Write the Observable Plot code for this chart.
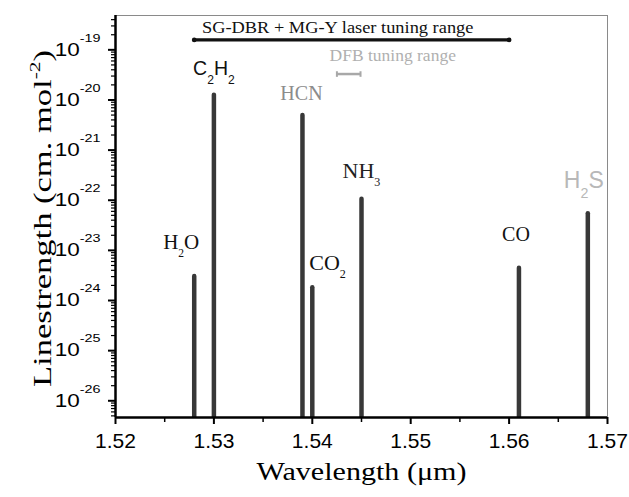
<!DOCTYPE html>
<html>
<head>
<meta charset="utf-8">
<script src="https://cdn.jsdelivr.net/npm/d3@7"></script>
<script src="https://cdn.jsdelivr.net/npm/@observablehq/plot@0.6"></script>
<style>
  html, body { margin: 0; padding: 0; background: #fff; }
  #chart { width: 629px; height: 497px; }
</style>
</head>
<body>
<div id="chart"></div>
<script>
// ---------------- data ----------------
const species     = ["H2O", "C2H2", "HCN", "CO2", "NH3", "CO", "H2S"];
const wavelengths = [1.528, 1.530, 1.539, 1.540, 1.545, 1.561, 1.568];      // µm
const strengths   = [3.0e-24, 1.24e-20, 4.9e-21, 1.8e-24, 1.05e-22, 4.4e-24, 5.4e-23]; // cm/mol

const rangeNames  = ["SG-DBR + MG-Y laser tuning range", "DFB tuning range"];
const rangeStart  = [1.528, 1.5425];
const rangeEnd    = [1.560, 1.5449];
const rangeLevel  = [1.58e-19, 3.29e-20];

const xTickValues   = [1.52, 1.53, 1.54, 1.55, 1.56, 1.57];
const xMinorValues  = [1.525, 1.535, 1.545, 1.555, 1.565];
const yTickExponents = [-26, -25, -24, -23, -22, -21, -20, -19];

const xTitle = "Wavelength (\u03BCm)";
const yTitle = "Linestrength (cm. mol^-2)";

// ---------------- styling ----------------
const SERIF = "Liberation Serif";
const SANS  = "Liberation Sans";
const yDomain = [4.64e-27, 4.84e-19];

const labelStyle = {
  H2O:  {font: SERIF, size: 21,   color: "#111",    dx: -13,  dy: -34},
  C2H2: {font: SANS,  size: 19.5, color: "#111",    dx: 0,    dy: -26.5},
  HCN:  {font: SERIF, size: 20,   color: "#8c8c8c", dx: -1,   dy: -22},
  CO2:  {font: SERIF, size: 22,   color: "#111",    dx: 15.3, dy: -24.7},
  NH3:  {font: SERIF, size: 22,   color: "#222",    dx: 0,    dy: -28.5},
  CO:   {font: SERIF, size: 20,   color: "#111",    dx: -3,   dy: -33.5},
  H2S:  {font: SANS,  size: 23,   color: "#b8b8b8", dx: -4,   dy: -33}
};
const rangeStyle = [
  {stroke: "#111", width: 3.3, text: "#111",    size: 17.5, dx: -14, dy: -12},
  {stroke: "#a8a8a8", width: 2.5, text: "#b0b0b0", size: 17.5, dx: 44, dy: -18.4}
];

// ---------------- tables ----------------
const lines = species.map((name, i) => ({name, wl: wavelengths[i], s: strengths[i]}));
const ranges = rangeNames.map((name, i) => ({name, start: rangeStart[i], end: rangeEnd[i], s: rangeLevel[i], i}));
const rangeEnds = ranges.flatMap(r => [{x: r.start, s: r.s, i: r.i}, {x: r.end, s: r.s, i: r.i}]);

const yMajor = yTickExponents.map(e => Math.pow(10, e));
const yMinor = [];
for (let e = -27; e <= -19; e++) for (let m = 2; m <= 9; m++) {
  const v = m * Math.pow(10, e);
  if (v > yDomain[0] && v < yDomain[1]) yMinor.push(v);
}

const vtick = {draw(ctx) { ctx.moveTo(0, -2.8); ctx.lineTo(0, 2.8); }};

const marks = [
  Plot.frame({stroke: "#8a8a8a", strokeWidth: 1}),
  Plot.ruleX(lines, {x: "wl", y1: yDomain[0], y2: "s", stroke: "#383838", strokeWidth: 4.5, strokeLinecap: "round", clip: true}),
  Plot.axisY({ticks: yMinor, tickSize: 4, tickFormat: () => "", strokeWidth: 1.2, label: null}),
  Plot.axisY({ticks: yMajor, tickSize: 7, tickPadding: 8, strokeWidth: 2, label: null,
              tickFormat: d => "10^" + Math.round(Math.log10(d)), fontSize: 18, fontFamily: SANS}),
  Plot.axisX({ticks: xMinorValues, tickSize: 5, tickFormat: () => "", strokeWidth: 1.5, label: null}),
  Plot.axisX({ticks: xTickValues, tickSize: 7, tickPadding: 9, strokeWidth: 2, label: null,
              tickFormat: d => d.toFixed(2), fontSize: 21, fontFamily: SANS}),
  Plot.ruleX([xTickValues[0]], {stroke: "#000", strokeWidth: 2.5}),
  Plot.ruleY([yDomain[0]], {stroke: "#000", strokeWidth: 2.5}),
  ...ranges.map((r, i) => Plot.ruleY([r], {y: "s", x1: "start", x2: "end", stroke: rangeStyle[i].stroke, strokeWidth: rangeStyle[i].width})),
  Plot.dot(rangeEnds.filter(d => d.i === 0), {x: "x", y: "s", r: 2.4, fill: rangeStyle[0].stroke, stroke: "none"}),
  Plot.dot(rangeEnds.filter(d => d.i === 1), {x: "x", y: "s", symbol: vtick, r: 3, fill: "none", stroke: rangeStyle[1].stroke, strokeWidth: 2}),
  ...ranges.map((r, i) => Plot.text([r], {x: d => (d.start + d.end) / 2, y: "s", text: "name",
      dx: rangeStyle[i].dx, dy: rangeStyle[i].dy, fill: rangeStyle[i].text, fontSize: rangeStyle[i].size, fontFamily: SERIF})),
  ...lines.map(l => {
    const st = labelStyle[l.name];
    return Plot.text([l], {x: "wl", y: "s", text: "name", dx: st.dx, dy: st.dy,
      fill: st.color, fontSize: st.size, fontFamily: st.font});
  }),
  Plot.text([xTitle], {text: d => d, frameAnchor: "bottom", textAnchor: "middle", lineAnchor: "middle",
      dy: 54, fontSize: 26, fontFamily: SERIF, fill: "#000"}),
  Plot.text([yTitle], {text: d => d, frameAnchor: "left", textAnchor: "middle", lineAnchor: "middle",
      rotate: -90, dx: -73, dy: 2, fontSize: 25, fontFamily: SERIF, fill: "#000"})
];

const svg = Plot.plot({
  width: 629, height: 497,
  marginLeft: 115, marginRight: 22, marginTop: 15, marginBottom: 80,
  x: {domain: [xTickValues[0], xTickValues[xTickValues.length - 1]], label: null},
  y: {type: "log", domain: yDomain, label: null},
  style: {background: "#fff", color: "#000", fontFamily: SANS, overflow: "visible"},
  marks
});
document.getElementById("chart").append(svg);

// ---------------- rich text (sub/superscripts) + glyph width ----------------
const NS = "http://www.w3.org/2000/svg";
function setRich(t, segs) {
  while (t.firstChild) t.removeChild(t.firstChild);
  let cur = 0;
  for (const g of segs) {
    const ts = document.createElementNS(NS, "tspan");
    ts.textContent = g.text;
    const shift = g.shift || 0;
    if (shift !== cur) ts.setAttribute("dy", shift - cur);
    cur = shift;
    if (g.size) ts.setAttribute("font-size", g.size);
    t.appendChild(ts);
  }
}
function stretch(t, k, target) {
  const L = t.getComputedTextLength();
  const len = target != null ? target : L * k;
  if (Math.abs(len - L) > 0.5) {
    t.setAttribute("textLength", len);
    t.setAttribute("lengthAdjust", "spacingAndGlyphs");
  }
}
svg.querySelectorAll("text").forEach(t => {
  const s = t.textContent;
  const fs = parseFloat(getComputedStyle(t).fontSize) || 16;
  let m;
  if ((m = s.match(/^10\^(-?\d+)$/))) {
    setRich(t, [{text: "10"}, {text: m[1], shift: -0.78 * fs, size: 11.5}]);
    stretch(t, 1.25);
  } else if (species.includes(s)) {
    const serif = labelStyle[s].font === SERIF;
    const parts = s.match(/\d+|\D+/g).map(p => /\d/.test(p)
      ? {text: p, shift: (serif ? 0.38 : 0.45) * fs, size: (serif ? 0.55 : 0.62) * fs}
      : {text: p});
    setRich(t, parts);
  } else if ((m = s.match(/^(.*mol)\^(-?\d+)(\).*)$/))) {
    setRich(t, [{text: m[1]}, {text: m[2], shift: -0.42 * fs, size: 0.62 * fs}, {text: m[3]}]);
    stretch(t, 1, 337);
  } else if (s === xTitle) {
    stretch(t, 1, 210);
  } else if (s === rangeNames[0]) {
    stretch(t, 1.05);
  }
});
</script>
</body>
</html>
